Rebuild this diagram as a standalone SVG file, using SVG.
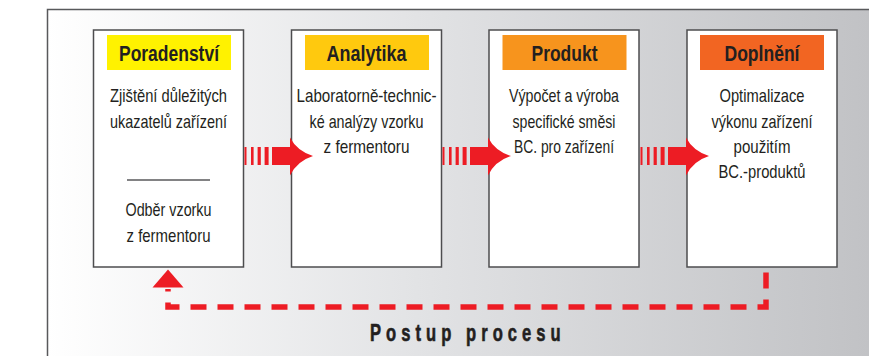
<svg xmlns="http://www.w3.org/2000/svg" width="869" height="356" viewBox="0 0 869 356">
  <defs>
    <linearGradient id="bg" x1="47" y1="0" x2="869" y2="0" gradientUnits="userSpaceOnUse">
      <stop offset="0" stop-color="#ffffff"/>
      <stop offset="0.45" stop-color="#e2e3e5"/>
      <stop offset="1" stop-color="#c1c2c5"/>
    </linearGradient>
    <g id="flowArrow">
      <rect x="244.5" y="147" width="2" height="18"/>
      <rect x="251" y="147" width="2.6" height="18"/>
      <rect x="257.6" y="147" width="3.2" height="18"/>
      <rect x="264.6" y="147" width="4" height="18"/>
      <rect x="272" y="147" width="19" height="18"/>
      <path d="M290,137.5 Q297,151 313,156 Q297,161 290,175.5 Z"/>
    </g>
  </defs>
  <style>
    .frame { fill: url(#bg); stroke: #58595b; stroke-width: 1.5; }
    .box { fill: #ffffff; stroke: #4d4d4f; stroke-width: 1.5; }
    .hdr { font-family: "Liberation Sans", Arial, sans-serif; font-weight: bold; font-size: 22px; fill: #231f20; text-anchor: middle; }
    .txt { font-family: "Liberation Sans", Arial, sans-serif; font-size: 19px; fill: #231f20; text-anchor: middle; }
    .title { font-family: "Liberation Sans", Arial, sans-serif; font-weight: bold; font-size: 23px; fill: #231f20; stroke: #231f20; stroke-width: 0.6; }
    .red { fill: #ed1c24; }
    .dash { fill: none; stroke: #ed1c24; stroke-width: 5.5; stroke-dasharray: 16 11; stroke-dashoffset: 22; stroke-linejoin: miter; }
  </style>

  <rect x="0" y="0" width="869" height="356" fill="#ffffff"/>
  <rect class="frame" x="47.5" y="9.5" width="900" height="400"/>

  <g id="node-poradenstvi">
    <rect class="box" x="93.5" y="30" width="150" height="237"/>
    <rect x="107" y="35" width="124" height="35" fill="#fff200"/>
    <text class="hdr" x="169" y="61" textLength="100" lengthAdjust="spacingAndGlyphs">Poradenství</text>
    <text class="txt" x="168.5" y="102" textLength="117" lengthAdjust="spacingAndGlyphs">Zjištění důležitých</text>
    <text class="txt" x="168.5" y="127.5" textLength="117" lengthAdjust="spacingAndGlyphs">ukazatelů zařízení</text>
    <line x1="127" y1="180" x2="210" y2="180" stroke="#58595b" stroke-width="1.5"/>
    <text class="txt" x="168.5" y="216" textLength="86" lengthAdjust="spacingAndGlyphs">Odběr vzorku</text>
    <text class="txt" x="168.5" y="242" textLength="84" lengthAdjust="spacingAndGlyphs">z fermentoru</text>
  </g>

  <g id="node-analytika">
    <rect class="box" x="291.5" y="30" width="150" height="237"/>
    <rect x="305" y="35" width="124" height="35" fill="#ffc90e"/>
    <text class="hdr" x="366.5" y="61" textLength="80" lengthAdjust="spacingAndGlyphs">Analytika</text>
    <text class="txt" x="366.5" y="102" textLength="140" lengthAdjust="spacingAndGlyphs">Laboratorně-technic-</text>
    <text class="txt" x="366.5" y="127.5" textLength="114" lengthAdjust="spacingAndGlyphs">ké analýzy vzorku</text>
    <text class="txt" x="366.5" y="153" textLength="86" lengthAdjust="spacingAndGlyphs">z fermentoru</text>
  </g>

  <g id="node-produkt">
    <rect class="box" x="489" y="30" width="150" height="237"/>
    <rect x="502.5" y="35" width="124" height="35" fill="#f7941d"/>
    <text class="hdr" x="564.5" y="61" textLength="66" lengthAdjust="spacingAndGlyphs">Produkt</text>
    <text class="txt" x="564" y="102" textLength="110" lengthAdjust="spacingAndGlyphs">Výpočet a výroba</text>
    <text class="txt" x="564" y="127.5" textLength="103" lengthAdjust="spacingAndGlyphs">specifické směsi</text>
    <text class="txt" x="564" y="153" textLength="100" lengthAdjust="spacingAndGlyphs">BC. pro zařízení</text>
  </g>

  <g id="node-doplneni">
    <rect class="box" x="687" y="30" width="150" height="237"/>
    <rect x="700" y="35" width="124" height="35" fill="#f26522"/>
    <text class="hdr" x="762" y="61" textLength="75" lengthAdjust="spacingAndGlyphs">Doplnění</text>
    <text class="txt" x="762" y="102" textLength="85" lengthAdjust="spacingAndGlyphs">Optimalizace</text>
    <text class="txt" x="762" y="127.5" textLength="101" lengthAdjust="spacingAndGlyphs">výkonu zařízení</text>
    <text class="txt" x="762" y="153" textLength="57" lengthAdjust="spacingAndGlyphs">použitím</text>
    <text class="txt" x="762" y="178" textLength="87" lengthAdjust="spacingAndGlyphs">BC.-produktů</text>
  </g>

  <g id="connectors">
    <use href="#flowArrow" class="red"/>
    <use href="#flowArrow" class="red" x="198"/>
    <use href="#flowArrow" class="red" x="396"/>
    <path class="dash" d="M766,267.5 V307 H168 V289"/>
    <polygon class="red" points="152.5,287.5 183.5,287.5 168,269.5"/>
  </g>

  <g id="label-title">
    <text class="title" transform="translate(466.5,341) scale(0.72,1)" x="-134" y="0" letter-spacing="7">Postup procesu</text>
  </g>
</svg>
